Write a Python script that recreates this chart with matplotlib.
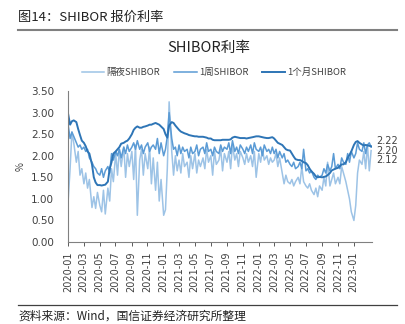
import matplotlib
matplotlib.use("Agg")
import matplotlib.pyplot as plt
import matplotlib.dates as mdates
import pandas as pd

plt.rcParams["font.family"] = ["Noto Sans CJK SC", "DejaVu Sans"]

# four readings per month (days 2, 9, 16, 23), Jan 2020 .. early Mar 2023
sample_days = [2, 9, 16, 23]

shibor_on = [
    1.00, 1.70, 2.55, 2.30,  # 2020-01
    1.85, 2.10, 1.55, 1.70,
    1.35, 1.60, 1.25, 1.45,
    0.80, 1.05, 0.78, 1.15,
    0.85, 0.70, 1.20, 0.65,
    1.25, 0.95, 1.70, 1.40,
    2.05, 1.55, 2.15, 1.75,
    2.20, 1.50, 2.05, 1.75,
    2.10, 1.45, 2.25, 0.62,
    1.90, 2.15, 1.55, 2.05,
    1.70, 2.20, 1.35, 1.95,
    1.20, 1.85, 0.95, 1.45,
    0.62, 0.75, 1.70, 3.25,  # 2021-01
    2.10, 1.55, 2.00, 1.65,
    1.90, 1.60, 2.05, 1.75,
    1.85, 1.50, 2.00, 1.70,
    2.05, 1.60, 1.90, 1.75,
    1.95, 1.70, 2.15, 1.85,
    2.00, 1.55, 2.10, 1.80,
    1.90, 2.15, 1.65, 2.05,
    1.85, 2.10, 1.70, 2.25,
    1.90, 2.05, 1.75, 2.10,
    1.95, 1.80, 2.05, 1.85,
    2.00, 1.75, 2.10, 1.50,
    2.05, 1.85, 2.15, 1.90,  # 2022-01
    2.00, 1.80, 1.95, 1.85,
    1.90, 2.05, 1.75, 1.95,
    1.60, 1.35, 1.55, 1.40,
    1.35, 1.45, 1.30, 1.40,
    1.50, 1.35, 1.75, 1.40,
    1.30, 1.25, 1.35, 1.20,
    1.10, 1.25, 1.05, 1.30,
    1.20, 1.50, 1.30, 1.85,
    1.30, 1.45, 1.60, 1.35,
    1.50, 1.35, 1.75, 1.60,
    1.40, 1.20, 1.00, 0.70,
    0.50, 0.85, 1.60, 1.90,  # 2023-01
    1.80, 2.10, 1.70, 2.25,
    1.65, 2.12,
]

shibor_1w = [
    2.70, 2.40, 2.55, 2.45,  # 2020-01
    2.30, 2.20, 2.25, 2.15,
    2.20, 2.10, 2.15, 1.95,
    1.85, 1.75, 1.70, 1.60,
    1.55, 1.70, 1.50, 1.65,
    1.75, 1.60, 2.05, 1.90,
    2.10, 2.00, 2.15, 1.95,
    2.20, 2.05, 2.25, 2.10,
    2.20, 2.30, 2.15, 2.35,
    2.15, 2.25, 2.05, 2.20,
    2.30, 2.10, 2.20, 2.25,
    2.15, 2.40, 2.05, 2.30,
    2.00, 2.15, 2.45, 3.00,  # 2021-01
    2.40, 2.15, 2.20, 2.00,
    2.25, 2.05, 2.20, 2.10,
    2.15, 1.95, 2.20, 2.05,
    2.10, 2.25, 2.00, 2.15,
    2.20, 2.05, 2.30, 2.10,
    2.15, 2.00, 2.20, 2.10,
    2.05, 2.25, 2.10, 2.20,
    2.15, 2.30, 2.05, 2.35,
    2.10, 2.20, 2.05, 2.25,
    2.15, 2.05, 2.20, 2.10,
    2.25, 2.05, 2.30, 2.15,
    2.10, 2.20, 2.00, 2.25,  # 2022-01
    2.10, 2.15, 2.05, 2.20,
    2.05, 2.15, 1.95, 2.10,
    1.95, 2.05, 1.85, 1.90,
    1.80, 1.75, 1.85, 1.70,
    1.75, 1.85, 1.70, 2.15,
    1.65, 1.70, 1.60, 1.65,
    1.50, 1.45, 1.55, 1.50,
    1.55, 1.70, 1.60, 1.80,
    1.65, 1.75, 2.05, 1.70,
    1.80, 1.70, 1.95, 1.85,
    1.80, 2.05, 1.85, 2.10,
    1.95, 2.05, 2.30, 2.15,  # 2023-01
    2.10, 2.30, 2.05, 2.25,
    2.30, 2.20,
]

shibor_1m = [
    2.95, 2.72, 2.80, 2.82,  # 2020-01
    2.78, 2.62, 2.48, 2.35,
    2.30, 2.22, 2.10, 2.05,
    1.80, 1.50, 1.38, 1.32,
    1.32, 1.31, 1.32, 1.33,
    1.40, 1.70, 1.85, 2.05,
    2.10, 2.15, 2.20, 2.28,
    2.30, 2.33, 2.35, 2.40,
    2.50, 2.60, 2.65, 2.68,
    2.65, 2.65, 2.67, 2.68,
    2.70, 2.72, 2.72, 2.74,
    2.76, 2.74, 2.72, 2.68,
    2.62, 2.50, 2.42, 2.70,  # 2021-01
    2.78, 2.76, 2.70, 2.65,
    2.60, 2.56, 2.54, 2.52,
    2.50, 2.48, 2.47, 2.46,
    2.45, 2.45, 2.44, 2.44,
    2.44, 2.43, 2.42, 2.40,
    2.40, 2.37, 2.36, 2.36,
    2.36, 2.36, 2.37, 2.37,
    2.37, 2.37, 2.38, 2.42,
    2.44, 2.43, 2.42, 2.41,
    2.41, 2.41, 2.40, 2.41,
    2.42, 2.43, 2.44, 2.45,
    2.45, 2.44, 2.43, 2.42,  # 2022-01
    2.41, 2.41, 2.42, 2.43,
    2.40, 2.35, 2.30, 2.28,
    2.25, 2.20, 2.15, 2.13,
    2.12, 2.05, 1.98, 1.92,
    1.90, 1.90, 1.88, 1.85,
    1.83, 1.78, 1.70, 1.64,
    1.58, 1.52, 1.50, 1.51,
    1.50, 1.51, 1.52, 1.55,
    1.60, 1.66, 1.68, 1.70,
    1.72, 1.76, 1.80, 1.80,
    1.85, 1.95, 2.02, 2.10,
    2.25, 2.32, 2.34, 2.30,  # 2023-01
    2.26, 2.24, 2.25, 2.24,
    2.23, 2.22,
]

series_names = ["隔夜SHIBOR", "1周SHIBOR", "1个月SHIBOR"]
series_colors = ["#9DC3E6", "#5B9BD5", "#2E75B6"]
label_offsets = [-7.0, -2.5, 3.5]  # points, keeps end labels apart

months = pd.date_range("2020-01-01", "2023-03-01", freq="MS")
dates = [m + pd.Timedelta(days=d - 1) for m in months for d in sample_days]
dates = dates[:len(shibor_1m)]

fig = plt.figure(figsize=(4.06, 3.24), dpi=100)
ax = fig.add_axes([0.1675, 0.253, 0.7485, 0.466])

text_color = "#404040"
for vals, name, color, lw in zip([shibor_on, shibor_1w, shibor_1m], series_names,
                                 series_colors, [1.1, 1.1, 1.4]):
    ax.plot(dates, vals, color=color, linewidth=lw, label=name)

for vals, color, dy in zip([shibor_on, shibor_1w, shibor_1m], series_colors, label_offsets):
    ax.annotate(f"{vals[-1]:.2f}", xy=(dates[-1], vals[-1]), xytext=(4, dy),
                textcoords="offset points", fontsize=7, color=text_color, va="center",
                family=["DejaVu Sans"])

ax.set_ylim(0, 3.5)
ax.set_yticks([0, 0.5, 1.0, 1.5, 2.0, 2.5, 3.0, 3.5])
ax.set_yticklabels([f"{v:.2f}" for v in ax.get_yticks()])
ax.set_xlim(pd.Timestamp("2020-01-01"), pd.Timestamp("2023-03-12"))
ax.set_xticks(pd.date_range("2020-01-01", "2023-01-01", freq="2MS"))
ax.xaxis.set_major_formatter(mdates.DateFormatter("%Y-%m"))
ax.tick_params(axis="x", rotation=90, labelsize=7, colors=text_color, length=3, width=0.6)
ax.tick_params(axis="y", labelsize=7.5, colors=text_color, length=0, pad=10)
for lab in ax.get_xticklabels() + ax.get_yticklabels():
    lab.set_family(["DejaVu Sans"])
ax.set_ylabel("%", fontsize=7, color=text_color, labelpad=4)

for side in ("top", "right"):
    ax.spines[side].set_visible(False)
for side in ("left", "bottom"):
    ax.spines[side].set_color("#808080")
    ax.spines[side].set_linewidth(0.8)

ax.legend(loc="lower center", bbox_to_anchor=(0.48, 1.035), ncol=3, frameon=False,
          fontsize=6.8, handlelength=2.4, columnspacing=1.5, handletextpad=0.2,
          labelcolor=text_color)

fig.text(0.045, 0.947, "图14：SHIBOR 报价利率", fontsize=9.5, color="#222222", va="center")
fig.add_artist(plt.Line2D([0.045, 0.978], [0.907, 0.907], color="#808080", linewidth=1.5))
fig.text(0.515, 0.852, "SHIBOR利率", fontsize=10.5, color="#222222", ha="center", va="center")
fig.add_artist(plt.Line2D([0.045, 0.978], [0.06, 0.06], color="#404040", linewidth=0.9))
fig.text(0.045, 0.024, "资料来源：Wind，国信证券经济研究所整理", fontsize=8.5, color="#222222",
         va="center")

fig.savefig("out.png", dpi=100)
